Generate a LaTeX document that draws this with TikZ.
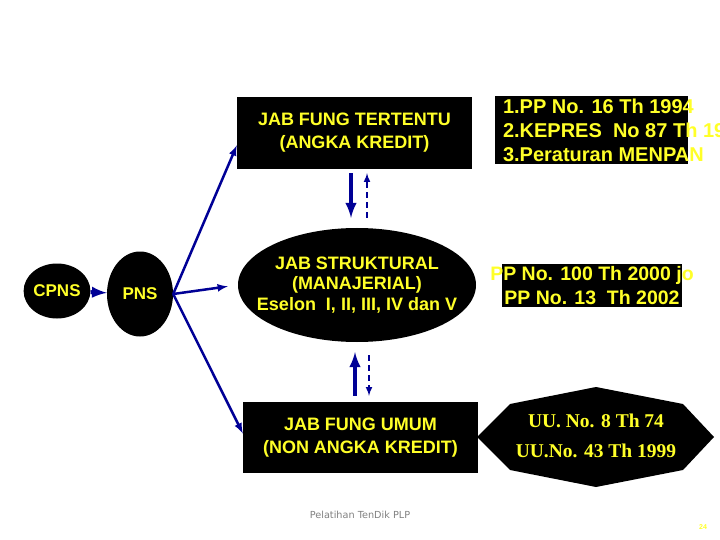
\documentclass[tikz,border=0pt]{standalone}
\usepackage{fontspec}
\setmainfont{Liberation Sans}
\newfontfamily\timesrm{Liberation Serif}
\newfontfamily\footrm{DejaVu Sans}
\usetikzlibrary{shapes,arrows,positioning}
\definecolor{navyarr}{RGB}{0,0,150}
\definecolor{txtyellow}{RGB}{255,255,40}
\tikzstyle{blob}=[ellipse,fill=black,text=txtyellow,inner sep=0pt,font=\bfseries\fontsize{17}{19}\selectfont]
\tikzstyle{jab}=[rectangle,fill=black,text=txtyellow,align=center,inner sep=0pt,font=\bfseries\fontsize{18}{23}\selectfont]
\tikzstyle{lawbg}=[rectangle,fill=black,inner sep=0pt]
\tikzstyle{law}=[text=txtyellow,inner sep=0pt,font=\bfseries\fontsize{20}{24}\selectfont]
\tikzstyle{arr}=[-latex,line width=2.5pt,draw=navyarr]
\tikzstyle{varr}=[-latex,line width=4pt,draw=navyarr]
\tikzstyle{dvarr}=[-latex,line width=2pt,dash pattern=on 6pt off 4pt,draw=navyarr]

\begin{document}
\begin{tikzpicture}[x=1pt,y=-1pt]
\useasboundingbox (0,0) rectangle (720,540);
\node[blob,minimum width=66pt,minimum height=55pt] (cpns) at (57,291) {CPNS};
\node[blob,minimum width=66pt,minimum height=85pt] (pns) at (140,294) {PNS};
\node[jab,minimum width=235pt,minimum height=72pt] (tertentu) at (354.5,133) {JAB FUNG TERTENTU\\(ANGKA KREDIT)};
\node[jab,ellipse,inner xsep=-16pt,minimum width=238pt,minimum height=114pt,font=\bfseries\fontsize{18}{20.5}\selectfont] (struktural) at (357,285) {JAB STRUKTURAL\\(MANAJERIAL)\\Eselon\ \ I, II, III, IV dan V};
\node[jab,minimum width=235pt,minimum height=71pt] (umum) at (360.5,437.5) {JAB FUNG UMUM\\(NON ANGKA KREDIT)};
% dasar hukum
\node[lawbg,minimum width=193pt,minimum height=68pt] (bgtertentu) at (591.5,130) {};
\node[law,align=left,anchor=west] (lawtertentu) at ([xshift=8pt]bgtertentu.west) {1.PP No. 16 Th 1994\\2.KEPRES\ \ No 87 Th 19\\3.Peraturan MENPAN};
\node[lawbg,minimum width=180pt,minimum height=43pt] (bgstruktural) at (592,285.5) {};
\node[law,align=center,font=\bfseries\fontsize{19.5}{24}\selectfont] (lawstruktural) at (bgstruktural) {PP No. 100 Th 2000 jo\\PP No. 13\ \ Th 2002};
\fill[black] (477,437) -- (510,404) -- (596,387) -- (683,404) -- (714,437) -- (683,470) -- (596,487) -- (510,470) -- cycle;
\node[text=txtyellow,align=center,inner sep=0pt,font=\timesrm\bfseries\fontsize{19.5}{30}\selectfont] (lawumum) at (596,436) {UU. No. 8 Th 74\\UU.No. 43 Th 1999};
% footer
\node[text=gray,font=\footrm\fontsize{9.7}{11}\selectfont] (footer) at (360,515) {Pelatihan TenDik PLP};
\node[text=txtyellow,font=\bfseries\fontsize{7}{8}\selectfont] (pagenum) at (703,527) {24};
% panah
\draw[varr] (cpns) -- (pns);
\draw[arr] (pns.east) -- (tertentu.186);
\draw[arr,shorten >=10pt] (pns.east) -- (struktural.west);
\draw[arr] (pns.east) -- (umum.178);
\draw[varr,shorten <=4pt,shorten >=10pt] ([xshift=-3.5pt]tertentu.south) -- ([xshift=-3.5pt]tertentu.south |- struktural.north);
\draw[dvarr,shorten <=10pt,shorten >=4pt] ([xshift=12.5pt]tertentu.south |- struktural.north) -- ([xshift=12.5pt]tertentu.south);
\draw[varr,shorten <=6pt,shorten >=10pt] ([xshift=-5.5pt]umum.north) -- ([xshift=-5.5pt]umum.north |- struktural.south);
\draw[dvarr,shorten <=13pt,shorten >=6pt] ([xshift=8.5pt]umum.north |- struktural.south) -- ([xshift=8.5pt]umum.north);
\end{tikzpicture}
\end{document}
